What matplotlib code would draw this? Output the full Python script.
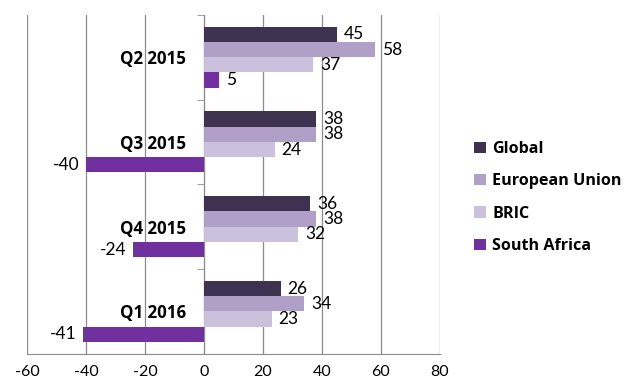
import matplotlib.pyplot as plt
import numpy as np

plt.rcParams['font.family'] = ['Lato', 'DejaVu Sans']

# data
quarters = ['Q2 2015', 'Q3 2015', 'Q4 2015', 'Q1 2016']
series_names = ['Global', 'European Union', 'BRIC', 'South Africa']
global_vals = [45, 38, 36, 26]
eu_vals = [58, 38, 38, 34]
bric_vals = [37, 24, 32, 23]
sa_vals = [5, -40, -24, -41]
xticks = [-60, -40, -20, 0, 20, 40, 60, 80]

colors = ['#3f3150', '#b09fc7', '#ccc1dd', '#7030a0']

fig = plt.figure(figsize=(6.3, 3.91), dpi=100)
ax = fig.add_axes([0.043, 0.095, 0.655, 0.867])

y = np.arange(len(quarters))
h = 0.18
offsets = [-0.27, -0.09, 0.09, 0.27]
all_vals = [global_vals, eu_vals, bric_vals, sa_vals]

for vals, name, col, off in zip(all_vals, series_names, colors, offsets):
    bars = ax.barh(y + off, vals, height=h, color=col, label=name, zorder=3)
    ax.bar_label(bars, padding=5, fontsize=12.5, color='#000000')

ax.set_xlim(-60, 80)
ax.set_ylim(len(quarters) - 0.5, -0.5)
ax.set_xticks(xticks)
ax.set_xticklabels([str(t) for t in xticks], fontsize=11.5)
ax.tick_params(axis='x', length=0, pad=8)
ax.xaxis.grid(True, color='#8c8c8c', linewidth=0.9, zorder=0)

# category axis sits at x = 0
ax.spines['left'].set_position(('data', 0))
ax.spines['left'].set_color('#8c8c8c')
ax.spines['bottom'].set_color('#8c8c8c')
ax.spines['top'].set_visible(False)
ax.spines['right'].set_visible(False)

ax.set_yticks(y)
ax.set_yticklabels(quarters, fontsize=12.2, fontweight='bold', family=['Open Sans', 'DejaVu Sans'])
ax.tick_params(axis='y', length=0, pad=13)
ax.set_yticks(np.arange(-0.5, len(quarters)), minor=True)
ax.tick_params(axis='y', which='minor', length=5, color='#8c8c8c', direction='out')

leg = fig.legend(loc='upper left', bbox_to_anchor=(0.73, 0.677), frameon=False,
                 handlelength=0.7, handleheight=0.7, handletextpad=0.4,
                 labelspacing=1.02, prop={'family': 'Open Sans', 'weight': 'bold', 'size': 11.6})

fig.savefig('out.png', dpi=100)
